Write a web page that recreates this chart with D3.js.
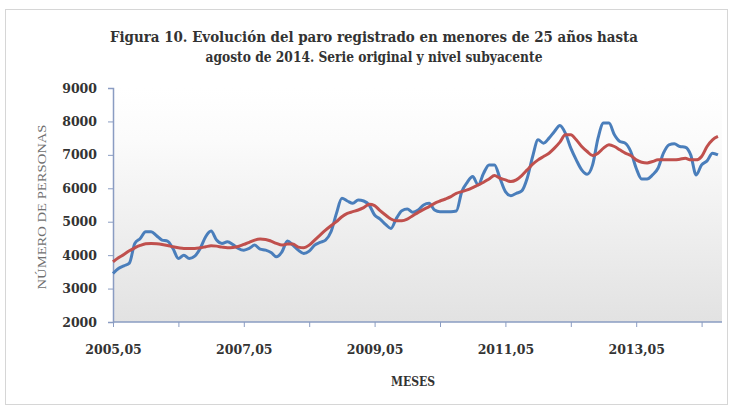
<!DOCTYPE html>
<html>
<head>
<meta charset="utf-8">
<script src="https://cdn.jsdelivr.net/npm/d3@7"></script>
<style>
  body { margin: 0; background: #fff; }
  svg text { font-family: "DejaVu Serif", "Liberation Serif", serif; }
</style>
</head>
<body>
<div id="chart"></div>
<script>
// monthly series, 2005.05 .. 2014.08
const startYear = 2005, startMonth = 5;

const original = [
  3450, 3600, 3680, 3760, 4350, 4500, 4700, 4700, 4580, 4450, 4420, 4200,
  3900, 4000, 3900, 3970, 4200, 4550, 4720, 4450, 4350, 4400, 4320, 4200,
  4150, 4200, 4300, 4180, 4150, 4080, 3950, 4100, 4420, 4300, 4150, 4050,
  4120, 4300, 4380, 4450, 4700, 5250, 5700, 5620, 5550, 5650, 5620, 5500,
  5200, 5080, 4920, 4800, 5100, 5330, 5380, 5280, 5350, 5500, 5550, 5350,
  5300, 5300, 5300, 5320, 5900, 6180, 6350, 6100, 6450, 6700, 6700, 6300,
  5900, 5780, 5850, 5920, 6300, 6950, 7450, 7350, 7500, 7700, 7880, 7650,
  7200, 6850, 6550, 6420, 6700, 7500, 7950, 7950, 7600, 7400, 7350, 7100,
  6600, 6280, 6280, 6400, 6600, 7050, 7300, 7330, 7250, 7230, 7000, 6400,
  6700, 6820, 7050, 7000
];

const trend = [
  3800, 3920, 4020, 4130, 4220, 4290, 4340, 4350, 4340, 4320, 4290, 4250,
  4220, 4200, 4200, 4200, 4220, 4250, 4280, 4270, 4240, 4220, 4230, 4260,
  4320, 4380, 4450, 4480, 4470, 4420, 4350, 4300, 4330, 4330, 4240, 4220,
  4300, 4450, 4600, 4750, 4880, 5000, 5150, 5250, 5300, 5350, 5420, 5520,
  5480, 5330, 5200, 5080, 5030, 5030, 5080, 5180, 5280, 5370, 5450, 5550,
  5620, 5680, 5750, 5850, 5900, 5950, 6020, 6100, 6180, 6280, 6380, 6300,
  6250, 6200, 6250, 6380, 6550, 6720, 6850, 6950, 7050, 7200, 7380, 7600,
  7600, 7450, 7250, 7100, 6980, 7050, 7200, 7300, 7250, 7150, 7050, 6980,
  6850, 6780, 6760, 6800, 6850, 6850, 6850, 6850, 6870, 6900, 6850, 6850,
  6950, 7250, 7450, 7550
];

const yTicks = [2000, 3000, 4000, 5000, 6000, 7000, 8000, 9000];
const xLabelEvery = 24;   // one label every two years
const xTickEvery = 12;    // one tick mark every year

const titleLines = [
  "Figura 10. Evolución del paro registrado en menores de 25 años hasta",
  "agosto de 2014. Serie original y nivel subyacente"
];
const titleWidths = [528, 337];

const months = original.map((d, i) => {
  const m = startMonth - 1 + i;
  const y = startYear + Math.floor(m / 12);
  const mm = (m % 12) + 1;
  return y + "," + String(mm).padStart(2, "0");
});

const W = 733, H = 406;
const plot = { left: 113, right: 722, top: 88, bottom: 322 };
const axisColor = "#8a9cc2";

const svg = d3.select("#chart").append("svg")
  .attr("width", W)
  .attr("height", H);

// outer frame
svg.append("rect")
  .attr("x", 5.5).attr("y", 9.5)
  .attr("width", 722).attr("height", 395)
  .attr("fill", "#fff")
  .attr("stroke", "#d6d6d6");

// plot area gradient
const grad = svg.append("defs").append("linearGradient")
  .attr("id", "bg").attr("x1", 0).attr("y1", 0).attr("x2", 0).attr("y2", 1);
grad.append("stop").attr("offset", "0%").attr("stop-color", "#ffffff");
grad.append("stop").attr("offset", "22%").attr("stop-color", "#fbfbfb");
grad.append("stop").attr("offset", "100%").attr("stop-color", "#e2e2e2");

svg.append("rect")
  .attr("x", plot.left).attr("y", plot.top)
  .attr("width", plot.right - plot.left)
  .attr("height", plot.bottom - plot.top)
  .attr("fill", "url(#bg)");

const x = d3.scaleLinear()
  .domain([0, original.length - 1])
  .range([plot.left, plot.left + 5.45 * (original.length - 1)]);

const y = d3.scaleLinear()
  .domain([2000, 9000])
  .range([plot.bottom, plot.top]);

// title
svg.append("g").selectAll("text")
  .data(titleLines)
  .join("text")
  .attr("x", 374)
  .attr("y", (d, i) => 42 + i * 20)
  .attr("text-anchor", "middle")
  .attr("font-size", 14)
  .attr("font-weight", "bold")
  .attr("fill", "#333")
  .attr("textLength", (d, i) => titleWidths[i])
  .attr("lengthAdjust", "spacingAndGlyphs")
  .style("font-family", "'DejaVu Serif Condensed', 'DejaVu Serif', serif")
  .text(d => d);

// y axis
const yAxis = svg.append("g")
  .attr("transform", `translate(${plot.left},0)`)
  .call(d3.axisLeft(y).tickValues(yTicks).tickSize(5).tickPadding(11).tickFormat(d3.format("d")));
yAxis.select(".domain").attr("stroke", axisColor).attr("stroke-width", 1.5);
yAxis.selectAll(".tick line").attr("stroke", axisColor);
yAxis.selectAll(".tick text")
  .attr("font-size", 12.5)
  .attr("font-weight", "bold")
  .attr("fill", "#333")
  .style("font-family", "DejaVu Serif");

// x axis
const tickIdx = d3.range(0, original.length, xTickEvery);
const xAxis = svg.append("g")
  .attr("transform", `translate(0,${plot.bottom})`)
  .call(d3.axisBottom(x).tickValues(tickIdx).tickSize(5).tickPadding(18)
    .tickFormat(i => i % xLabelEvery === 0 ? months[i] : ""));
xAxis.select(".domain")
  .attr("d", `M${plot.left},0H${plot.right}`)
  .attr("stroke", axisColor).attr("stroke-width", 1.5);
xAxis.selectAll(".tick line").attr("stroke", axisColor);
xAxis.selectAll(".tick text")
  .attr("font-size", 12.5)
  .attr("font-weight", "bold")
  .attr("fill", "#333")
  .style("font-family", "DejaVu Serif");

// axis titles
svg.append("text")
  .attr("transform", "translate(46,207) rotate(-90)")
  .attr("text-anchor", "middle")
  .attr("font-size", 13)
  .attr("fill", "#707070")
  .attr("textLength", 165)
  .attr("lengthAdjust", "spacingAndGlyphs")
  .style("font-family", "Liberation Serif")
  .text("NÚMERO DE PERSONAS");

svg.append("text")
  .attr("x", 413).attr("y", 386)
  .attr("text-anchor", "middle")
  .attr("font-size", 12)
  .attr("font-weight", "bold")
  .attr("fill", "#333")
  .style("font-family", "'DejaVu Serif Condensed', 'DejaVu Serif', serif")
  .text("MESES");

// lines
const line = d3.line()
  .x((d, i) => x(i))
  .y(d => y(d))
  .curve(d3.curveMonotoneX);

svg.append("path")
  .datum(original)
  .attr("fill", "none")
  .attr("stroke", "#4a7ebb")
  .attr("stroke-width", 3)
  .attr("stroke-linejoin", "round")
  .attr("d", line);

svg.append("path")
  .datum(trend)
  .attr("fill", "none")
  .attr("stroke", "#c0504d")
  .attr("stroke-width", 3)
  .attr("stroke-linejoin", "round")
  .attr("d", line);
</script>
</body>
</html>
